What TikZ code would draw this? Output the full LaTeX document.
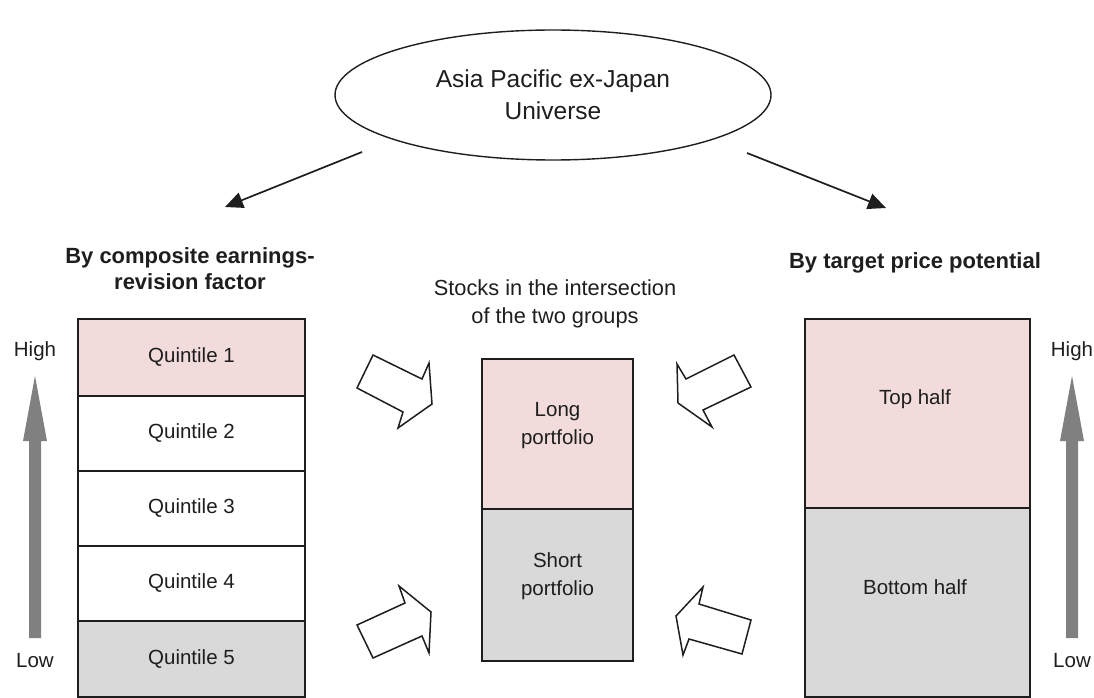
\documentclass[tikz,border=0pt]{standalone}
\usepackage{fontspec}
\setmainfont{Liberation Sans}
\usetikzlibrary{shapes.geometric,arrows.meta}
\definecolor{pinkfill}{RGB}{242,220,219}
\definecolor{grayfill}{RGB}{217,217,217}
\definecolor{arrowgray}{RGB}{128,128,128}
\definecolor{linecol}{RGB}{30,30,30}
\tikzset{
  every node/.style={text=linecol},
  txt/.style={font=\fontsize{20.5}{28}\selectfont, align=center, inner sep=0pt},
  midtxt/.style={font=\fontsize{21.8}{28}\selectfont, align=center, inner sep=0pt},
  hdr/.style={font=\fontsize{22}{26}\selectfont\bfseries, align=center, inner sep=0pt},
  cell/.style={draw=linecol, line width=1.3pt, inner sep=0pt, outer sep=0pt, font=\fontsize{20.5}{28}\selectfont, align=center},
  conn/.style={draw=linecol, line width=1.7pt, -{Triangle[length=18pt,width=16pt]}},
  blockarrow/.style={draw=linecol, fill=white, line width=1.5pt, line join=miter},
  bigarrow/.style={fill=arrowgray, draw=none}
}
\begin{document}
\begin{tikzpicture}[x=1pt,y=-1pt]
\useasboundingbox (0,0) rectangle (1094,698);
% ellipse
\node[draw=linecol, line width=1.4pt, ellipse, minimum width=436pt, minimum height=130pt, inner sep=0pt,
      font=\fontsize{24.5}{32}\selectfont, align=center] (uni) at (553,95) {Asia Pacific ex-Japan\\Universe};
% connectors
\coordinate (l0) at (362,152);
\coordinate (l1) at (225,207);
\coordinate (r0) at (747,153);
\coordinate (r1) at (886,208);
\draw[conn] (l0) -- (l1);
\draw[conn] (r0) -- (r1);
% headers
\node[hdr] (lh) at (190,269) {By composite earnings-\\revision factor};
\node[hdr] (rh) at (915,263) {By target price potential};
\node[midtxt] (mh) at (555,304) {Stocks in the intersection\\of the two groups};
% left column
\node[cell, fill=pinkfill, minimum width=227pt, minimum height=77pt] (q1) at (191.5,357.5) {Quintile 1};
\node[cell, fill=white, minimum width=227pt, minimum height=75pt] (q2) at (191.5,433.5) {Quintile 2};
\node[cell, fill=white, minimum width=227pt, minimum height=75pt] (q3) at (191.5,508.5) {Quintile 3};
\node[cell, fill=white, minimum width=227pt, minimum height=75pt] (q4) at (191.5,583.5) {Quintile 4};
\node[cell, fill=grayfill, minimum width=227pt, minimum height=76pt] (q5) at (191.5,659) {Quintile 5};
% middle
\node[cell, fill=pinkfill, minimum width=151pt, minimum height=150pt] (long) at (557.5,434) {};
\node[cell, fill=grayfill, minimum width=151pt, minimum height=152pt] (short) at (557.5,585) {};
\node[txt] (longt) at (557.5,426) {Long\\portfolio};
\node[txt] (shortt) at (557.5,576) {Short\\portfolio};
% right
\node[cell, fill=pinkfill, minimum width=225pt, minimum height=189pt] (top) at (917.5,413.5) {};
\node[cell, fill=grayfill, minimum width=225pt, minimum height=189pt] (bot) at (917.5,602.5) {};
\draw[linecol, line width=2.4pt] (top.south west) -- (top.south east);
\node[txt] (topt) at (915,399) {Top half};
\node[txt] (bott) at (915,587) {Bottom half};
% high/low labels
\node[txt] (hl) at (35,351) {High};
\node[txt] (ll) at (35,661) {Low};
\node[txt] (hr) at (1072,351) {High};
\node[txt] (lr) at (1072,661) {Low};
% big gray arrows
\fill[bigarrow] (29,638) -- (41,638) -- (41,441) -- (47,441) -- (35,376) -- (23,441) -- (29,441) -- cycle;
\fill[bigarrow] (1066,638) -- (1078,638) -- (1078,441) -- (1084,441) -- (1072,376) -- (1060,441) -- (1066,441) -- cycle;
% block arrows
\draw[blockarrow] (373,355) -- (422,379) -- (429,363) -- (432,404) -- (398,428) -- (403,412) -- (357,388) -- cycle;
\draw[blockarrow] (357,625) -- (405,603) -- (399,586) -- (431,612) -- (429,653) -- (422,636) -- (373,658) -- cycle;
\draw[blockarrow] (734,355) -- (751,387) -- (703,410) -- (712,427) -- (678,403) -- (677,364) -- (686,379) -- cycle;
\draw[blockarrow] (703,587) -- (699,604) -- (751,620) -- (742,654) -- (689,639) -- (683,655) -- (676,616) -- cycle;
\end{tikzpicture}
\end{document}
